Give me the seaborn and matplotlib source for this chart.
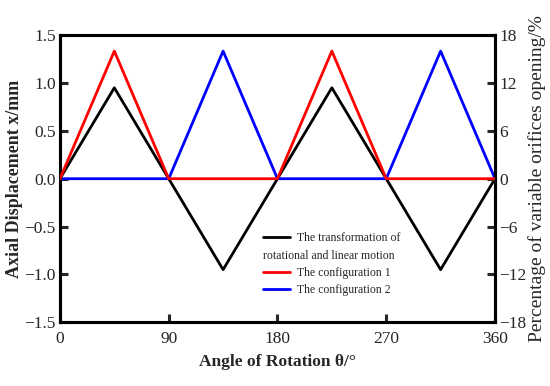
import matplotlib
matplotlib.use("Agg")
import matplotlib.pyplot as plt
import seaborn as sns
import pandas as pd
from matplotlib.ticker import MultipleLocator
from matplotlib.lines import Line2D

angle = [0, 45, 90, 135, 180, 225, 270, 315, 360]
displacement = [0, 0.95, 0, -0.95, 0, 0.95, 0, -0.95, 0]
config1 = [0, 16, 0, 0, 0, 16, 0, 0, 0]
config2 = [0, 0, 0, 16, 0, 0, 0, 16, 0]

sns.set_style("ticks")
plt.rcParams['font.family'] = ['Liberation Serif', 'DejaVu Serif']
plt.rcParams['axes.unicode_minus'] = True

fig, ax = plt.subplots(figsize=(5.5, 3.86), dpi=100)
fig.subplots_adjust(left=0.109, right=0.9, top=0.909, bottom=0.165)
ax2 = ax.twinx()

df = pd.DataFrame({"angle": angle, "disp": displacement, "c1": config1, "c2": config2})
lw = 2.0
sns.lineplot(data=df, x="angle", y="disp", ax=ax, color="black", lw=lw, zorder=3)
sns.lineplot(data=df, x="angle", y="c2", ax=ax2, color="#0000ff", lw=lw, zorder=2)
sns.lineplot(data=df, x="angle", y="c1", ax=ax2, color="#ff0000", lw=lw, zorder=3)

ax.set_xlim(0, 360)
ax.set_ylim(-1.5, 1.5)
ax2.set_ylim(-18, 18)
ax.xaxis.set_major_locator(MultipleLocator(90))
ax.yaxis.set_major_locator(MultipleLocator(0.5))
ax2.yaxis.set_major_locator(MultipleLocator(6))
ax.yaxis.set_major_formatter(matplotlib.ticker.FuncFormatter(lambda v, p: f"{v:.1f}".replace("-", "\u2212")))
ax2.yaxis.set_major_formatter(matplotlib.ticker.FuncFormatter(lambda v, p: f"{v:.0f}".replace("-", "\u2212")))

for a in (ax, ax2):
    for s in a.spines.values():
        s.set_linewidth(2.2)
        s.set_color("black")
ax.tick_params(axis="both", direction="in", length=6, width=2.2, labelsize=12.5, pad=3)
ax.tick_params(axis="x", pad=6)
ax2.tick_params(axis="y", direction="in", length=6, width=2.2, labelsize=12.5, pad=3)

ax.set_xlabel("Angle of Rotation θ/°", fontsize=12.5, fontweight="bold", labelpad=5)
ax.set_ylabel("Axial Displacement x/mm", fontsize=13, fontweight="bold", labelpad=1)
ax2.set_ylabel("Percentage of variable orifices opening/%", fontsize=14, labelpad=1)

handles = [Line2D([], [], color="black", lw=lw),
           Line2D([], [], color="none", lw=lw),
           Line2D([], [], color="#ff0000", lw=lw),
           Line2D([], [], color="#0000ff", lw=lw)]
labels = ["The transformation of", "rotational and linear motion",
          "The configuration 1", "The configuration 2"]
fs = 8.5
leg = ax2.legend(handles, labels, loc="upper left", bbox_to_anchor=(0.467, 0.313),
                 frameon=False, fontsize=fs, handlelength=2.3, handletextpad=0.6,
                 borderpad=0, borderaxespad=0, labelspacing=0.45)
shift = (2.3 + 0.6) * fs * fig.dpi / 72.0
leg.get_texts()[1].set_x(-shift)

fig.savefig("out.png", dpi=100)
